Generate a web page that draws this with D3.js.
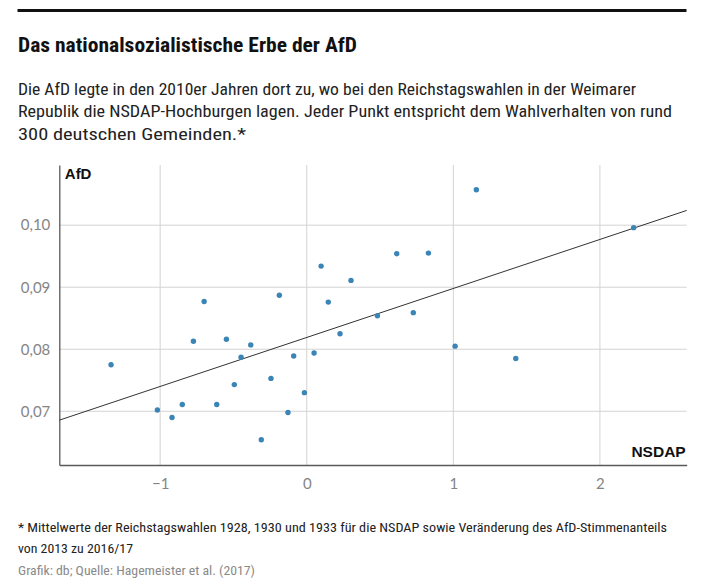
<!DOCTYPE html>
<html>
<head>
<meta charset="utf-8">
<script src="https://cdn.jsdelivr.net/npm/d3@7"></script>
<style>
  html, body { margin: 0; padding: 0; background: #fff; }
  svg { display: block; }
</style>
</head>
<body>
<svg id="chart" width="716" height="585"></svg>
<script>
// ---- data ----
const nsdap = [-1.335, -1.019, -0.919, -0.849, -0.773, -0.700, -0.614, -0.548, -0.494, -0.448,
               -0.382, -0.310, -0.244, -0.187, -0.128, -0.089, -0.016, 0.050, 0.098, 0.147,
               0.227, 0.302, 0.482, 0.614, 0.727, 0.830, 1.012, 1.157, 1.426, 2.230];
const afd   = [0.0775, 0.0702, 0.0690, 0.0711, 0.0813, 0.0877, 0.0711, 0.0816, 0.0743, 0.0787,
               0.0807, 0.0654, 0.0753, 0.0887, 0.0698, 0.0789, 0.0730, 0.0794, 0.0934, 0.0876,
               0.0825, 0.0911, 0.0854, 0.0954, 0.0859, 0.0955, 0.0805, 0.1057, 0.0785, 0.0996];
const xTicks = [-1, 0, 1, 2];
const xTickLabels = ["\u22121", "0", "1", "2"];
const yTicks = [0.07, 0.08, 0.09, 0.10];
const yTickLabels = ["0,07", "0,08", "0,09", "0,10"];
const regIntercept = 0.0819;
const regSlope = 0.0079;
const xDomain = [-1.688, 2.592];
const yDomain = [0.06134, 0.1097];

const title = "Das nationalsozialistische Erbe der AfD";
const subtitleLines = [
  "Die AfD legte in den 2010er Jahren dort zu, wo bei den Reichstagswahlen in der Weimarer",
  "Republik die NSDAP-Hochburgen lagen. Jeder Punkt entspricht dem Wahlverhalten von rund",
  "300 deutschen Gemeinden.*"
];
const footnoteLines = [
  "* Mittelwerte der Reichstagswahlen 1928, 1930 und 1933 f\u00fcr die NSDAP sowie Ver\u00e4nderung des AfD-Stimmenanteils",
  "von 2013 zu 2016/17"
];
const source = "Grafik: db; Quelle: Hagemeister et al. (2017)";

// ---- layout ----
const svg = d3.select("#chart");
const plot = { left: 59.3, right: 686.7, top: 165, bottom: 465 };
const narrow = "'Liberation Sans Narrow', 'Roboto Condensed', 'DejaVu Sans Condensed', 'Liberation Sans', sans-serif";

// top rule
svg.append("rect").attr("x", 17.5).attr("y", 9).attr("width", 669).attr("height", 3).attr("fill", "#111");

function fitText(sel, width) {
  sel.attr("textLength", width).attr("lengthAdjust", "spacingAndGlyphs");
}

svg.append("text").attr("x", 18).attr("y", 52)
  .attr("font-family", narrow).attr("font-weight", "bold").attr("font-size", 19.5)
  .attr("fill", "#111").text(title).call(fitText, 339);

const subWidths = [618, 654, 228];
subtitleLines.forEach((t, i) => {
  svg.append("text").attr("x", 18).attr("y", 95 + i * 22.3)
    .attr("font-family", narrow).attr("font-size", 16.5).attr("fill", "#222")
    .text(t).call(fitText, subWidths[i]);
});

const footWidths = [649, 115];
footnoteLines.forEach((t, i) => {
  svg.append("text").attr("x", 18).attr("y", 532 + i * 20.5)
    .attr("font-family", narrow).attr("font-size", 13.5).attr("fill", "#222")
    .text(t).call(fitText, footWidths[i]);
});
svg.append("text").attr("x", 18).attr("y", 575)
  .attr("font-family", narrow).attr("font-size", 13.5).attr("fill", "#8a8a8a")
  .text(source).call(fitText, 237);

// ---- scales ----
const x = d3.scaleLinear().domain(xDomain).range([plot.left, plot.right]);
const y = d3.scaleLinear().domain(yDomain).range([plot.bottom, plot.top]);

const g = svg.append("g");

// gridlines
g.selectAll("line.vgrid").data(xTicks).join("line").attr("class", "vgrid")
  .attr("x1", d => x(d)).attr("x2", d => x(d))
  .attr("y1", plot.top).attr("y2", plot.bottom)
  .attr("stroke", "#d3d3d3").attr("stroke-width", 1);
g.selectAll("line.hgrid").data(yTicks).join("line").attr("class", "hgrid")
  .attr("x1", plot.left).attr("x2", plot.right)
  .attr("y1", d => y(d)).attr("y2", d => y(d))
  .attr("stroke", "#d3d3d3").attr("stroke-width", 1);

// axes via d3
const xAxis = d3.axisBottom(x).tickValues(xTicks).tickSize(0).tickPadding(13)
  .tickFormat((d, i) => xTickLabels[i]);
const yAxis = d3.axisLeft(y).tickValues(yTicks).tickSize(0).tickPadding(9)
  .tickFormat((d, i) => yTickLabels[i]);

const gx = g.append("g").attr("transform", `translate(0,${plot.bottom})`).call(xAxis);
const gy = g.append("g").attr("transform", `translate(${plot.left},0)`).call(yAxis);
[gx, gy].forEach(a => {
  a.select(".domain").attr("stroke", "#5a5a5a").attr("stroke-width", 1.3);
  a.selectAll("text").attr("font-family", "Lato, 'Open Sans', sans-serif")
    .attr("font-size", 15).attr("fill", "#858585");
});

// regression line
g.append("line")
  .attr("x1", x(xDomain[0])).attr("y1", y(regIntercept + regSlope * xDomain[0]))
  .attr("x2", x(xDomain[1])).attr("y2", y(regIntercept + regSlope * xDomain[1]))
  .attr("stroke", "#333").attr("stroke-width", 1);

// points
g.selectAll("circle").data(nsdap.map((v, i) => [v, afd[i]])).join("circle")
  .attr("cx", d => x(d[0])).attr("cy", d => y(d[1])).attr("r", 2.7)
  .attr("fill", "#3a85b6");

// axis titles
g.append("text").attr("x", plot.left + 5.5).attr("y", 179)
  .attr("font-family", "'Liberation Sans', Arial, sans-serif").attr("font-weight", "bold")
  .attr("font-size", 15).attr("fill", "#111").text("AfD");
g.append("text").attr("x", plot.right - 1).attr("y", 457).attr("text-anchor", "end")
  .attr("font-family", "'Liberation Sans', Arial, sans-serif").attr("font-weight", "bold")
  .attr("font-size", 15.5).attr("fill", "#111").text("NSDAP");
</script>
</body>
</html>
